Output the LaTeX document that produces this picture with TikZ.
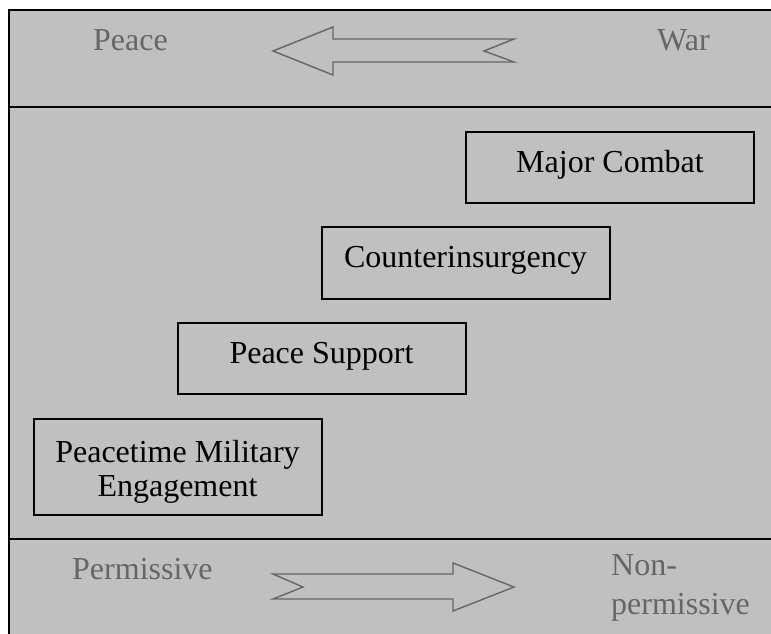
\documentclass[tikz,border=0pt]{standalone}
\usepackage{fontspec}
\setmainfont{Liberation Serif}
\definecolor{bandgray}{HTML}{C0C0C0}
\definecolor{labelgray}{HTML}{666666}
\tikzset{
  frame/.style={line width=2.2pt, draw=black},
  opbox/.style={draw=black, line width=2pt, minimum width=288pt, inner sep=0pt,
    font=\fontsize{32}{34}\selectfont},
  oneline/.style={text height=22pt, text depth=13pt},
  bandlabel/.style={text=labelgray, font=\fontsize{32}{39}\selectfont, inner sep=0pt, align=left},
  bigarrow/.style={draw=labelgray, line width=1.4pt, line join=miter}
}
\begin{document}
\begin{tikzpicture}[x=1pt,y=-1pt]
\useasboundingbox (0,0) rectangle (771,634);
% grey panel with its frame
\fill[bandgray] (9,10) rectangle (771,634);
\draw[frame] (771,10) -- (9,10) -- (9,634);
\draw[frame] (9,107) -- (771,107);
\draw[frame] (9,539) -- (771,539);

% top band: peace to war
\node[bandlabel, anchor=base west] (peace) at (93,51) {Peace};
\node[bandlabel, anchor=base west] (war) at (657,51) {War};
\draw[bigarrow] (273,51) -- (333,27) -- (333,39) -- (514,39) -- (484,51)
  -- (514,62) -- (333,62) -- (333,75) -- cycle;

% bottom band: permissive to non-permissive
\node[bandlabel, anchor=north west] (nonperm) at (611,554) {Non-\\permissive};
\node[bandlabel, anchor=base west] (perm) at (72,579) {Permissive};
\draw[bigarrow] (273,574) -- (453,574) -- (453,563) -- (514,587) -- (453,611)
  -- (453,599) -- (273,599) -- (303,587) -- cycle;

% operation types
\node[opbox, oneline, minimum height=71pt] (mc) at (610,167.5) {Major Combat};
\node[opbox, oneline, minimum height=72pt] (ci) at (465.5,263) {Counterinsurgency};
\node[opbox, oneline, minimum height=71pt] (ps) at (321.5,358.5) {Peace Support};
\node[opbox, minimum height=96pt] (pme) at (177.5,467)
  {\raisebox{-6pt}[\height][\depth]{\begin{tabular}{@{}c@{}}Peacetime Military\\Engagement\end{tabular}}};
\end{tikzpicture}
\end{document}
